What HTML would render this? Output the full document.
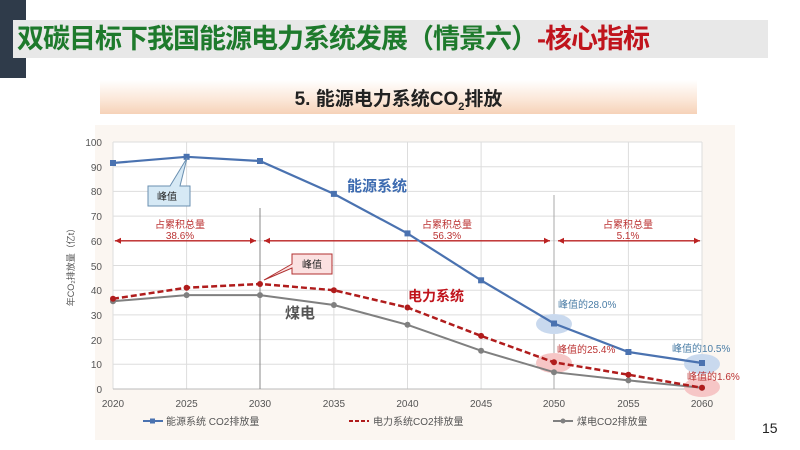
<!DOCTYPE html><html><head><meta charset="utf-8"><style>
body{margin:0;width:800px;height:450px;background:#fff;position:relative;overflow:hidden;font-family:"Liberation Sans","Noto Sans CJK SC",sans-serif}
.abs{position:absolute}
</style></head><body>
<div class="abs" style="left:0;top:0;width:26px;height:78px;background:#2f3b4a"></div>
<div class="abs" style="left:13px;top:20px;width:755px;height:38px;background:#e8e8e8"></div>
<div class="abs" style="left:17px;top:22px;font-size:27px;font-weight:bold;color:#1e7a2c;letter-spacing:-1px;line-height:34px">双碳目标下我国能源电力系统发展（情景六）<span style="color:#c0141c">-核心指标</span></div>
<div class="abs" style="left:100px;top:80px;width:597px;height:34px;background:linear-gradient(#fff 0%,#fbe6d6 60%,#f6d2b8 100%)"></div>
<div class="abs" style="left:100px;top:84px;width:597px;text-align:center;font-size:19px;font-weight:bold;color:#222">5. 能源电力系统CO<sub style="font-size:11px">2</sub>排放</div>
<div class="abs" style="left:95px;top:125px;width:640px;height:315px;background:#fbf6f1"></div>
<div class="abs" style="left:762px;top:420px;font-size:14px;color:#222">15</div>
<svg class="abs" style="left:0;top:0" width="800" height="450" font-family="Liberation Sans,Noto Sans CJK SC,sans-serif">
<rect x="113" y="142" width="589" height="247" fill="#fff"/>
<g stroke="#ddd" stroke-width="1">
<line x1="113" x2="702" y1="142" y2="142"/><line x1="113" x2="702" y1="166.7" y2="166.7"/><line x1="113" x2="702" y1="191.4" y2="191.4"/><line x1="113" x2="702" y1="216.1" y2="216.1"/><line x1="113" x2="702" y1="240.8" y2="240.8"/><line x1="113" x2="702" y1="265.5" y2="265.5"/><line x1="113" x2="702" y1="290.2" y2="290.2"/><line x1="113" x2="702" y1="314.9" y2="314.9"/><line x1="113" x2="702" y1="339.6" y2="339.6"/><line x1="113" x2="702" y1="364.3" y2="364.3"/>
<line y1="142" y2="389" x1="113" x2="113"/><line y1="142" y2="389" x1="186.6" x2="186.6"/><line y1="142" y2="389" x1="333.9" x2="333.9"/><line y1="142" y2="389" x1="407.5" x2="407.5"/><line y1="142" y2="389" x1="481.1" x2="481.1"/><line y1="142" y2="389" x1="628.4" x2="628.4"/><line y1="142" y2="389" x1="702" x2="702"/>
</g>
<line x1="113" x2="702" y1="389" y2="389" stroke="#bbb"/>
<line x1="260" x2="260" y1="208" y2="389" stroke="#888"/>
<line x1="554" x2="554" y1="195" y2="389" stroke="#aaa"/>
<g font-size="10" fill="#555" text-anchor="end"><text x="102" y="146">100</text><text x="102" y="171">90</text><text x="102" y="195">80</text><text x="102" y="220">70</text><text x="102" y="245">60</text><text x="102" y="270">50</text><text x="102" y="294">40</text><text x="102" y="319">30</text><text x="102" y="344">20</text><text x="102" y="368">10</text><text x="102" y="393">0</text></g>
<g font-size="10" fill="#555" text-anchor="middle"><text x="113" y="407">2020</text><text x="186.6" y="407">2025</text><text x="260" y="407">2030</text><text x="333.9" y="407">2035</text><text x="407.5" y="407">2040</text><text x="481.1" y="407">2045</text><text x="554" y="407">2050</text><text x="628.4" y="407">2055</text><text x="702" y="407">2060</text></g>
<text transform="translate(74,265) rotate(-90)" font-size="9" fill="#555" text-anchor="middle">年CO₂排放量（亿t）</text>
<ellipse cx="554" cy="324" rx="18" ry="10" fill="#c9d9ee"/><ellipse cx="702" cy="364" rx="18" ry="10" fill="#c9d9ee"/>
<ellipse cx="554" cy="363" rx="18" ry="10" fill="#f6c6c6"/><ellipse cx="702" cy="387" rx="18" ry="10" fill="#f6c6c6"/>
<g stroke="#b22" stroke-width="1.3" fill="#b22">
<line x1="115" x2="256" y1="240.8" y2="240.8"/><line x1="264" x2="550" y1="240.8" y2="240.8"/><line x1="558" x2="700" y1="240.8" y2="240.8"/>
<path d="M115 240.8l6-3v6zM256 240.8l-6-3v6zM264 240.8l6-3v6zM550 240.8l-6-3v6zM558 240.8l6-3v6zM700 240.8l-6-3v6z" stroke="none"/>
</g>
<g font-size="10" fill="#b33" text-anchor="middle"><text x="180" y="228">占累积总量</text><text x="180" y="239">38.6%</text><text x="447" y="228">占累积总量</text><text x="447" y="239">56.3%</text><text x="628" y="228">占累积总量</text><text x="628" y="239">5.1%</text></g>
<polyline fill="none" stroke="#808080" stroke-width="2" points="113,301.3 186.6,295.1 260,295.1 333.9,305 407.5,324.8 481.1,350.7 554,372.2 628.4,380.4 702,387.8"/>
<g fill="#808080"><circle cx="113" cy="301.3" r="3"/><circle cx="186.6" cy="295.1" r="3"/><circle cx="260" cy="295.1" r="3"/><circle cx="333.9" cy="305" r="3"/><circle cx="407.5" cy="324.8" r="3"/><circle cx="481.1" cy="350.7" r="3"/><circle cx="554" cy="372.2" r="3"/><circle cx="628.4" cy="380.4" r="3"/><circle cx="702" cy="387.8" r="3"/></g>
<polyline fill="none" stroke="#b01c1c" stroke-width="2.5" stroke-dasharray="6,3" points="113,298.8 186.6,287.7 260,284 333.9,290.2 407.5,307.5 481.1,335.9 554,362.3 628.4,374.7 702,387.8"/>
<g fill="#b01c1c"><circle cx="113" cy="298.8" r="3"/><circle cx="186.6" cy="287.7" r="3"/><circle cx="260" cy="284" r="3"/><circle cx="333.9" cy="290.2" r="3"/><circle cx="407.5" cy="307.5" r="3"/><circle cx="481.1" cy="335.9" r="3"/><circle cx="554" cy="362.3" r="3"/><circle cx="628.4" cy="374.7" r="3"/><circle cx="702" cy="387.8" r="3"/></g>
<polyline fill="none" stroke="#4a72b0" stroke-width="2.2" points="113,163 186.6,156.8 260,161 333.9,193.9 407.5,233.4 481.1,280.3 554,323.5 628.4,352 702,363"/>
<g fill="#4a72b0"><rect x="110" y="160" width="6" height="6"/><rect x="183.6" y="153.8" width="6" height="6"/><rect x="257" y="158" width="6" height="6"/><rect x="330.9" y="190.9" width="6" height="6"/><rect x="404.5" y="230.4" width="6" height="6"/><rect x="478.1" y="277.3" width="6" height="6"/><rect x="551" y="320.5" width="6" height="6"/><rect x="625.4" y="349" width="6" height="6"/><rect x="699" y="360" width="6" height="6"/></g>
<path d="M148 186h22l17,-28 -7,28h10v20h-42z" fill="#d6e9f5" stroke="#6a8fb0"/>
<text x="167" y="200" font-size="10" text-anchor="middle" fill="#222">峰值</text>
<path d="M292 254h40v20h-40v-6l-28,12 28,-16z" fill="#fbe1e1" stroke="#b03030"/>
<text x="312" y="268" font-size="10" text-anchor="middle" fill="#222">峰值</text>
<text x="347" y="191" font-size="15" font-weight="bold" fill="#3d6bb0">能源系统</text>
<text x="408" y="301" font-size="14" font-weight="bold" fill="#c0141c">电力系统</text>
<text x="285" y="318" font-size="15" font-weight="bold" fill="#555">煤电</text>
<g font-size="10"><text x="558" y="308" fill="#4a7da6">峰值的28.0%</text><text x="557" y="353" fill="#b33">峰值的25.4%</text><text x="672" y="352" fill="#4a7da6">峰值的10.5%</text><text x="687" y="380" fill="#b33">峰值的1.6%</text></g>
<g font-size="10" fill="#555"><line x1="143" x2="163" y1="421" y2="421" stroke="#4a72b0" stroke-width="2"/><rect x="150" y="418.5" width="5" height="5" fill="#4a72b0"/><text x="166" y="425">能源系统 CO2排放量</text>
<line x1="349" x2="369" y1="421" y2="421" stroke="#b01c1c" stroke-width="2" stroke-dasharray="4,2"/><text x="373" y="425">电力系统CO2排放量</text>
<line x1="553" x2="573" y1="421" y2="421" stroke="#808080" stroke-width="2"/><circle cx="563" cy="421" r="2.5" fill="#808080"/><text x="577" y="425">煤电CO2排放量</text></g>
</svg>
</body></html>
